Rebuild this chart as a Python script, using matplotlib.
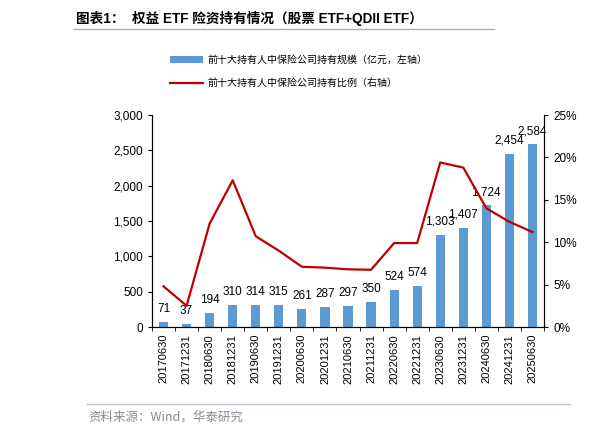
import matplotlib
matplotlib.use("Agg")
import matplotlib.pyplot as plt
from matplotlib.ticker import FuncFormatter, PercentFormatter
from matplotlib.lines import Line2D
import numpy as np

plt.rcParams['font.family'] = ['Liberation Sans', 'Noto Sans CJK SC', 'DejaVu Sans']

# data
dates = ["20170630", "20171231", "20180630", "20181231", "20190630", "20191231",
         "20200630", "20201231", "20210630", "20211231", "20220630", "20221231",
         "20230630", "20231231", "20240630", "20241231", "20250630"]
scale = [71, 37, 194, 310, 314, 315, 261, 287, 297, 350, 524, 574,
         1303, 1407, 1724, 2454, 2584]
ratio = [4.8, 2.5, 12.2, 17.3, 10.7, 9.0, 7.1, 7.0, 6.8, 6.75, 9.9, 9.9,
         19.4, 18.8, 14.0, 12.4, 11.2]

title = "图表1：  权益 ETF 险资持有情况（股票 ETF+QDII ETF）"
bar_label = "前十大持有人中保险公司持有规模（亿元，左轴）"
line_label = "前十大持有人中保险公司持有比例（右轴）"
source = "资料来源：Wind，华泰研究"

bar_color = "#5B9BD5"
line_color = "#C00000"

W, H = 616, 434
fig = plt.figure(figsize=(W / 100, H / 100), dpi=100)
ax = fig.add_axes([152 / W, 1 - 327 / H, (544 - 152) / W, (327 - 115) / H])

x = np.arange(len(dates))
bars = ax.bar(x, scale, width=0.4, color=bar_color, zorder=2)
for xi, v in zip(x, scale):
    ax.annotate(f"{v:,}", (xi, v), xytext=(0, 5), textcoords="offset points",
                ha="center", va="bottom", fontsize=8.5)

ax.set_xlim(-0.5, len(dates) - 0.5)
ax.set_ylim(0, 3000)
ax.set_yticks(np.arange(0, 3001, 500))
ax.yaxis.set_major_formatter(FuncFormatter(lambda v, p: f"{int(v):,}"))
ax.set_xticks(x)
ax.set_xticklabels(dates, rotation=90, fontsize=8)
ax.set_xticks(np.arange(-0.5, len(dates), 1), minor=True)
ax.tick_params(axis="x", which="major", length=0, pad=5)
ax.tick_params(axis="x", which="minor", length=3, direction="out")
ax.tick_params(axis="y", labelsize=8.5, length=3, direction="out")
ax.spines["top"].set_visible(False)

ax2 = ax.twinx()
ax2.plot(x, ratio, color=line_color, lw=1.6, zorder=3)
ax2.set_ylim(0, 25)
ax2.set_yticks(np.arange(0, 26, 5))
ax2.yaxis.set_major_formatter(PercentFormatter(decimals=0))
ax2.tick_params(axis="y", labelsize=8.5, length=3, direction="out")
ax2.spines["top"].set_visible(False)

handles = [bars, Line2D([], [], color=line_color, lw=1.6)]
fig.legend(handles, [bar_label, line_label], loc="upper left",
           bbox_to_anchor=(165 / W, 1 - 50 / H), frameon=False, borderpad=0,
           handlelength=3.3, handletextpad=0.4, labelspacing=1.3,
           prop={"family": ["Noto Sans CJK SC"], "size": 7.2})

fig.text(76 / W, 1 - 18 / H, title, fontsize=9.8, fontweight="bold",
         va="center", ha="left", family=["Liberation Sans", "Noto Sans CJK SC"])
fig.add_artist(Line2D([74 / W, 494 / W], [1 - 29 / H, 1 - 29 / H],
                      color="#A6B1C3", lw=1))
fig.add_artist(Line2D([87 / W, 570 / W], [1 - 404 / H, 1 - 404 / H],
                      color="#B7C3D3", lw=1))
fig.text(88 / W, 1 - 417 / H, source, fontsize=9, color="#8C8C8C",
         va="center", ha="left", family=["Noto Sans CJK SC"])

fig.savefig("out.png", dpi=100)
